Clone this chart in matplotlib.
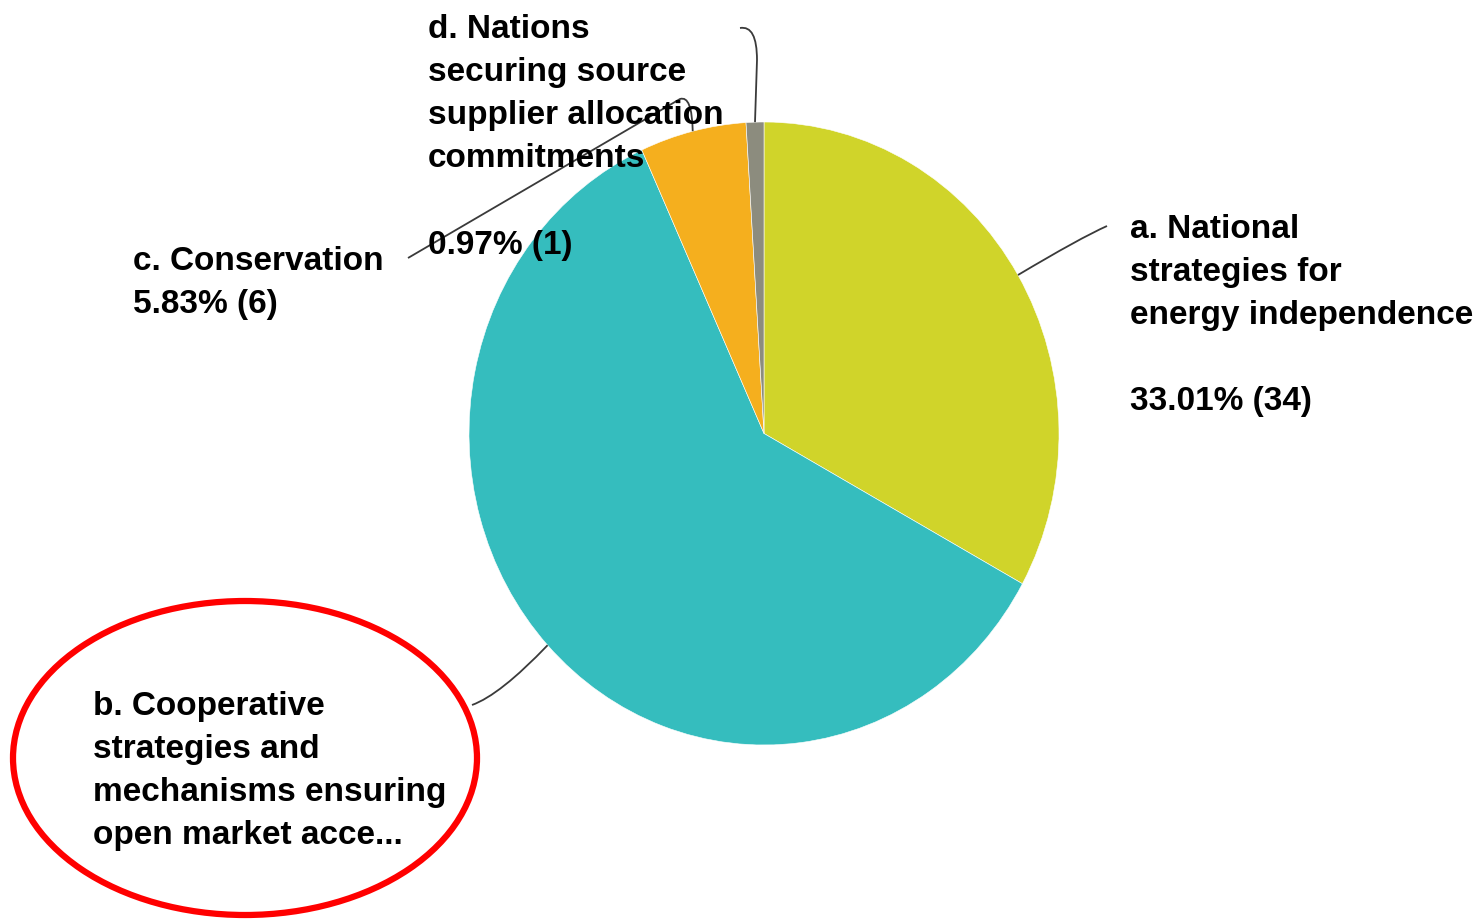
import numpy as np
import matplotlib
matplotlib.use("Agg")
import matplotlib.pyplot as plt
from matplotlib.patches import Ellipse, PathPatch
from matplotlib.path import Path

# ---- data ----
categories = [
    "a. National\nstrategies for\nenergy independence",
    "b. Cooperative\nstrategies and\nmechanisms ensuring\nopen market acce...",
    "c. Conservation",
    "d. Nations\nsecuring source\nsupplier allocation\ncommitments",
]
counts = [34, 62, 6, 1]
colors = ["#D0D42A", "#35BDBE", "#F5AF1E", "#8C8C7E"]

W, H = 1481, 922
fig = plt.figure(figsize=(W / 100, H / 100), dpi=100)
fig.patch.set_facecolor("white")

# pie geometry (pixels)
cx, cy, rx, ry = 764, 433.5, 295, 311.5
pax = fig.add_axes([(cx - rx) / W, (H - cy - ry) / H, 2 * rx / W, 2 * ry / H])
pax.pie(counts, colors=colors, startangle=90, counterclock=False,
        wedgeprops=dict(edgecolor="white", linewidth=0.4))
pax.set_xlim(-1, 1)
pax.set_ylim(-1, 1)
pax.set_aspect("auto")
pax.axis("off")

# overlay in pixel coords
ax = fig.add_axes([0, 0, 1, 1])
ax.set_xlim(0, W)
ax.set_ylim(H, 0)
ax.axis("off")

total = sum(counts)
pcts = [100 * c / total for c in counts]
ends = 90 - np.cumsum(np.array(counts) / total * 360)
starts = np.concatenate([[90], ends[:-1]])
mids = (starts + ends) / 2


def edge_pt(deg):
    t = np.deg2rad(deg)
    return cx + rx * np.cos(t), cy - ry * np.sin(t)


font = dict(family=["Liberation Sans", "DejaVu Sans"], fontweight="bold",
            fontsize=24, color="black", linespacing=1.505, va="top", ha="left")

labels = [
    f"{categories[0]}\n\n{pcts[0]:.2f}% ({counts[0]})",
    categories[1],
    f"{categories[2]}\n{pcts[2]:.2f}% ({counts[2]})",
    f"{categories[3]}\n\n{pcts[3]:.2f}% ({counts[3]})",
]
label_pos = [(1130, 214), (93, 691), (133, 246), (428, 14)]

# leader lines
line_kw = dict(facecolor="none", edgecolor="#3a3a3a", linewidth=1.3, zorder=3)
# a
ex, ey = edge_pt(mids[0])
ax.add_patch(PathPatch(Path([(ex, ey), (1080, 238), (1107, 226)],
                            [Path.MOVETO, Path.CURVE3, Path.CURVE3]), **line_kw))
# b
ex, ey = edge_pt(mids[1])
ax.add_patch(PathPatch(Path([(ex, ey), (500, 695), (472, 705)],
                            [Path.MOVETO, Path.CURVE3, Path.CURVE3]), **line_kw))
# c
ex, ey = edge_pt(mids[2])
ax.add_patch(PathPatch(Path([(ex, ey), (692, 95), (680, 99), (408, 258)],
                            [Path.MOVETO, Path.CURVE3, Path.CURVE3, Path.LINETO]), **line_kw))
# d
ex, ey = edge_pt(mids[3])
ax.add_patch(PathPatch(Path([(ex, ey), (757, 60), (757, 25), (740, 28)],
                            [Path.MOVETO, Path.LINETO, Path.CURVE3, Path.CURVE3]), **line_kw))

for txt, (x, y) in zip(labels, label_pos):
    ax.text(x, y, txt, zorder=4, **font)

# red highlight ellipse
ax.add_patch(Ellipse((245, 758), 464, 314, fill=False, edgecolor="#FF0000",
                     linewidth=4.5, zorder=5))

fig.savefig("out.png", dpi=100, facecolor="white")
